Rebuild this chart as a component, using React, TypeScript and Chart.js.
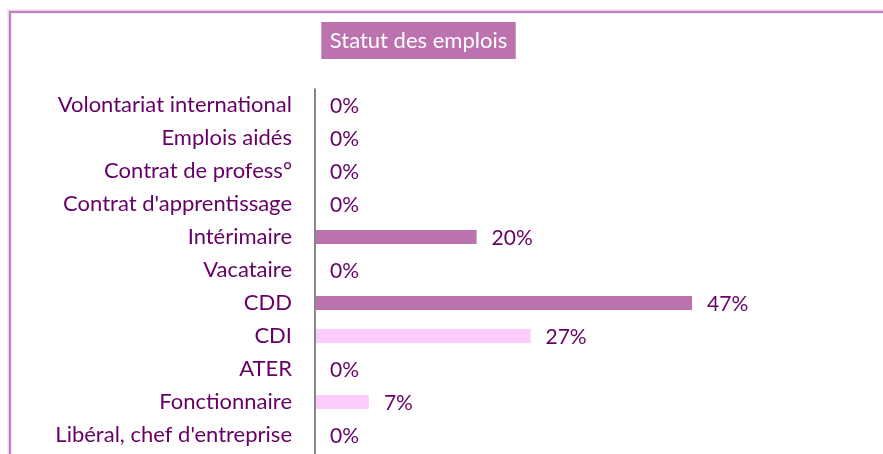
import React, { useEffect, useRef } from "react";
import { Chart, registerables } from "chart.js";

Chart.register(...registerables);

const categories = [
  "Volontariat international",
  "Emplois aidés",
  "Contrat de profess°",
  "Contrat d'apprentissage",
  "Intérimaire",
  "Vacataire",
  "CDD",
  "CDI",
  "ATER",
  "Fonctionnaire",
  "Libéral, chef d'entreprise",
];
const values = [0, 0, 0, 0, 20, 0, 46.67, 26.67, 0, 6.67, 0];
const valueLabels = ["0%", "0%", "0%", "0%", "20%", "0%", "47%", "27%", "0%", "7%", "0%"];
const barColors = [
  "#bb73b0", "#bb73b0", "#bb73b0", "#bb73b0", "#bb73b0", "#bb73b0", "#bb73b0",
  "#fdccfd", "#fdccfd", "#fdccfd", "#fdccfd",
];
const titleText = "Statut des emplois";

const FONT = "Lato, 'Open Sans', sans-serif";
const TEXT = "#660066";

export default function App() {
  const ref = useRef<HTMLCanvasElement | null>(null);
  useEffect(() => {
    document.body.style.margin = "0";
    const canvas = ref.current!;
    const decor = {
      id: "decor",
      beforeDraw(chart: any) {
        const c = chart.ctx;
        c.save();
        c.fillStyle = "#ffffff";
        c.fillRect(0, 0, chart.width, chart.height);
        c.strokeStyle = "#ead2e8";
        c.lineWidth = 4;
        c.beginPath();
        c.moveTo(9.5, chart.height);
        c.lineTo(9.5, 11.5);
        c.lineTo(chart.width, 11.5);
        c.stroke();
        c.strokeStyle = "#c07fbd";
        c.lineWidth = 2;
        c.beginPath();
        c.moveTo(10, chart.height);
        c.lineTo(10, 12);
        c.lineTo(chart.width, 12);
        c.stroke();
        // title box
        c.font = `22px ${FONT}`;
        const tw = c.measureText(titleText).width;
        const cx = 418.5;
        const bw = tw + 17;
        c.fillStyle = "#bd72b0";
        c.fillRect(cx - bw / 2, 22, bw, 37);
        c.fillStyle = "#ffffff";
        c.textAlign = "center";
        c.textBaseline = "middle";
        c.fillText(titleText, cx, 41);
        c.restore();
      },
      afterDatasetsDraw(chart: any) {
        const c = chart.ctx;
        const meta = chart.getDatasetMeta(0);
        c.save();
        c.font = `21px ${FONT}`;
        c.fillStyle = TEXT;
        c.textAlign = "left";
        c.textBaseline = "middle";
        meta.data.forEach((bar: any, i: number) => {
          c.fillText(valueLabels[i], bar.x + 15, bar.y + 1);
        });
        c.strokeStyle = "#868686";
        c.lineWidth = 2;
        c.beginPath();
        c.moveTo(chart.chartArea.left, chart.chartArea.top);
        c.lineTo(chart.chartArea.left, chart.height);
        c.stroke();
        c.restore();
      },
    };
    const chart = new Chart(canvas, {
      type: "bar",
      data: {
        labels: categories,
        datasets: [
          {
            data: values,
            backgroundColor: barColors,
            borderWidth: 0,
            barPercentage: 0.43,
            categoryPercentage: 1,
          },
        ],
      },
      options: {
        indexAxis: "y",
        responsive: false,
        animation: false,
        layout: { padding: { top: 88.5, bottom: 2.5, left: 0, right: 0 } },
        plugins: { legend: { display: false }, tooltip: { enabled: false }, title: { display: false } },
        scales: {
          x: { display: false, min: 0, max: 70.3 },
          y: {
            afterFit(scale: any) {
              scale.width = 315;
              scale.paddingTop = 0;
              scale.paddingBottom = 0;
            },
            grid: { display: false, drawTicks: false },
            border: { display: false },
            ticks: {
              color: TEXT,
              font: { family: FONT, size: 22 },
              padding: 23,
            },
          },
        },
      },
      plugins: [decor],
    });
    return () => chart.destroy();
  }, []);
  return (
    <div style={{ position: "absolute", left: 0, top: 0, width: 883, height: 454 }}>
      <canvas ref={ref} width={883} height={454} />
    </div>
  );
}
